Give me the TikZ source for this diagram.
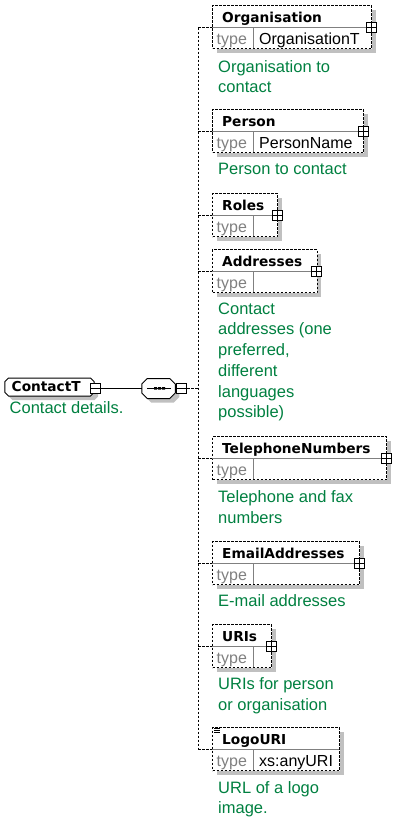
\documentclass[tikz,border=0pt]{standalone}
\usepackage{fontspec}
\setmainfont{Liberation Sans}
\newfontfamily\titlefam{DejaVu Sans}
\usetikzlibrary{shadows}

\definecolor{descgreen}{RGB}{0,128,64}
\definecolor{shadowgray}{RGB}{192,192,192}
\definecolor{linegray}{RGB}{128,128,128}
\newcommand\titlefont{\titlefam\bfseries\fontsize{13.7bp}{16bp}\selectfont}
\newcommand\descfont{\fontsize{16.5bp}{20.7bp}\selectfont}
\newcommand\typefont{\fontsize{16bp}{18bp}\selectfont}
% octagon round a node: node, chamfer, x offset, y offset
\newcommand\octpath[4]{([shift={(#3+#2,#4)}]#1.north west) -- ([shift={(#3-#2,#4)}]#1.north east)
  -- ([shift={(#3,#4-#2)}]#1.north east) -- ([shift={(#3,#4+#2)}]#1.south east)
  -- ([shift={(#3-#2,#4)}]#1.south east) -- ([shift={(#3+#2,#4)}]#1.south west)
  -- ([shift={(#3,#4+#2)}]#1.south west) -- ([shift={(#3,#4-#2)}]#1.north west) -- cycle}

\tikzset{
  elem/.style={draw,line width=1bp,dash pattern=on 2.5bp off 1.5bp,fill=white,inner sep=0pt,minimum height=43bp,anchor=north west,
    general shadow={fill=shadowgray,shadow xshift=4bp,shadow yshift=-4bp}},
  octbox/.style={rectangle,inner sep=0pt,outer sep=0pt},
  elemname/.style={font=\titlefont,anchor=base west,inner sep=0pt},
  typelabel/.style={font=\typefont,text=linegray,anchor=base west,inner sep=0pt},
  typename/.style={font=\typefont,anchor=base west,inner sep=0pt},
  descr/.style={font=\descfont,text=descgreen,anchor=north west,inner sep=0pt,align=left},
  divider/.style={draw=linegray,line width=1bp},
  expand/.style={draw,solid,fill=white,line width=1bp,minimum size=10bp,inner sep=0pt,
    path picture={\draw[line width=1bp] (path picture bounding box.west) -- (path picture bounding box.east)
      (path picture bounding box.north) -- (path picture bounding box.south);}},
  collapse/.style={draw,solid,fill=white,line width=1bp,minimum size=10bp,inner sep=0pt,
    path picture={\draw[line width=1bp] (path picture bounding box.west) -- (path picture bounding box.east);}},
  branch/.style={line width=1bp,dash pattern=on 2.5bp off 1.5bp},
}

\begin{document}
\begin{tikzpicture}[x=1bp,y=-1bp]
\useasboundingbox (0,0) rectangle (405,824);

% root type and its sequence
\node[octbox,minimum width=89bp,minimum height=18bp] (contact) at (49.5,387) {};
\fill[shadowgray] \octpath{contact}{3.5bp}{4bp}{-4bp};
\draw[line width=1bp,fill=white] \octpath{contact}{3.5bp}{0bp}{0bp};
\node[elemname] (contactname) at (11.5,391.7) {ContactT};
\node[collapse] (contactminus) at (95,388.5) {};
\node[descr] (contactdesc) at (9.5,401.5) {Contact details.};

\node[octbox,minimum width=33.5bp,minimum height=20bp] (seq) at (158.5,388.5) {};
\fill[shadowgray] \octpath{seq}{5.5bp}{4bp}{-4bp};
\draw[line width=1bp,fill=white] \octpath{seq}{5.5bp}{0bp}{0bp};
\draw[line width=1bp] ([xshift=5bp]seq.west) -- ([xshift=-4bp]seq.east);
\fill (154,387) rectangle (157,389.5) (158,387) rectangle (161,389.5) (162,387) rectangle (165,389.5);
\node[collapse] (seqminus) at (181.5,388.5) {};
\draw[line width=1bp] (contactminus.east) -- (seq.west);

% Organisation
\node[elem,minimum width=159bp] (org) at (212,5) {};
\draw[divider] (212,27.5) -- (371,27.5) (253,27.5) -- (253,48);
\node[elemname] (orgname) at (222,22) {Organisation};
\node[typelabel] (orgtype) at (216.5,44.5) {type};
\node[typename] (orgtypename) at (259,44.5) {OrganisationT};
\node[expand] (orgplus) at (371,27.5) {};
\node[descr] (orgdesc) at (218,60) {Organisation to\\contact};
\coordinate (orgin) at (212,27.5);

% Person
\node[elem,minimum width=151bp] (person) at (212,109) {};
\draw[divider] (212,131.5) -- (363,131.5) (253,131.5) -- (253,152);
\node[elemname] (personname) at (222,126) {Person};
\node[typelabel] (persontype) at (216.5,148.5) {type};
\node[typename] (persontypename) at (259,148.5) {PersonName};
\node[expand] (personplus) at (363,131.5) {};
\node[descr] (persondesc) at (218,163) {Person to contact};
\coordinate (personin) at (212,131.5);

% Roles
\node[elem,minimum width=65bp] (roles) at (212,193) {};
\draw[divider] (212,215.5) -- (277,215.5) (253,215.5) -- (253,236);
\node[elemname] (rolesname) at (222,210) {Roles};
\node[typelabel] (rolestype) at (216.5,232.5) {type};
\node[expand] (rolesplus) at (277,215.5) {};
\coordinate (rolesin) at (212,215.5);

% Addresses
\node[elem,minimum width=104.5bp] (addr) at (212,249) {};
\draw[divider] (212,271.5) -- (316.5,271.5) (253,271.5) -- (253,292);
\node[elemname] (addrname) at (222,266) {Addresses};
\node[typelabel] (addrtype) at (216.5,288.5) {type};
\node[expand] (addrplus) at (316.5,271.5) {};
\node[descr] (addrdesc) at (218,302.5) {Contact\\addresses (one\\preferred,\\different\\languages\\possible)};
\coordinate (addrin) at (212,271.5);

% TelephoneNumbers
\node[elem,minimum width=174bp] (tel) at (212,436) {};
\draw[divider] (212,458.5) -- (386,458.5) (253,458.5) -- (253,479);
\node[elemname] (telname) at (222,453) {TelephoneNumbers};
\node[typelabel] (teltype) at (216.5,475.5) {type};
\node[expand] (telplus) at (386,458.5) {};
\node[descr] (teldesc) at (218,490.5) {Telephone and fax\\numbers};
\coordinate (telin) at (212,458.5);

% EmailAddresses
\node[elem,minimum width=147bp] (email) at (212,541) {};
\draw[divider] (212,563.5) -- (359,563.5) (253,563.5) -- (253,584);
\node[elemname] (emailname) at (222,558) {EmailAddresses};
\node[typelabel] (emailtype) at (216.5,580.5) {type};
\node[expand] (emailplus) at (359,563.5) {};
\node[descr] (emaildesc) at (218,594) {E-mail addresses};
\coordinate (emailin) at (212,563.5);

% URIs
\node[elem,minimum width=59bp] (uris) at (212,624) {};
\draw[divider] (212,646.5) -- (271,646.5) (253,646.5) -- (253,667);
\node[elemname] (urisname) at (222,641) {URIs};
\node[typelabel] (uristype) at (216.5,663.5) {type};
\node[expand] (urisplus) at (271,646.5) {};
\node[descr] (urisdesc) at (218,677.5) {URIs for person\\or organisation};
\coordinate (urisin) at (212,646.5);

% LogoURI
\node[elem,minimum width=127bp] (logo) at (212,727) {};
\draw[divider] (212,749.5) -- (339,749.5) (253,749.5) -- (253,770);
\draw[line width=0.8bp] (214,728.5) -- (220,728.5) (214,730.5) -- (220,730.5) (214,732.5) -- (220,732.5);
\node[elemname] (logoname) at (222,744) {LogoURI};
\node[typelabel] (logotype) at (216.5,766.5) {type};
\node[typename] (logotypename) at (259,766.5) {xs:anyURI};
\node[descr] (logodesc) at (218,781) {URL of a logo\\image.};
\coordinate (logoin) at (212,749.5);

% sequence branches
\coordinate (bus) at (198,388.5);
\draw[branch] (seqminus.east) -- (bus);
\draw[branch] (bus |- orgin) -- (bus |- logoin);
\draw[branch] (bus |- orgin) -- (orgin);
\draw[branch] (bus |- personin) -- (personin);
\draw[branch] (bus |- rolesin) -- (rolesin);
\draw[branch] (bus |- addrin) -- (addrin);
\draw[branch] (bus |- telin) -- (telin);
\draw[branch] (bus |- emailin) -- (emailin);
\draw[branch] (bus |- urisin) -- (urisin);
\draw[branch] (bus |- logoin) -- (logoin);
\end{tikzpicture}
\end{document}
